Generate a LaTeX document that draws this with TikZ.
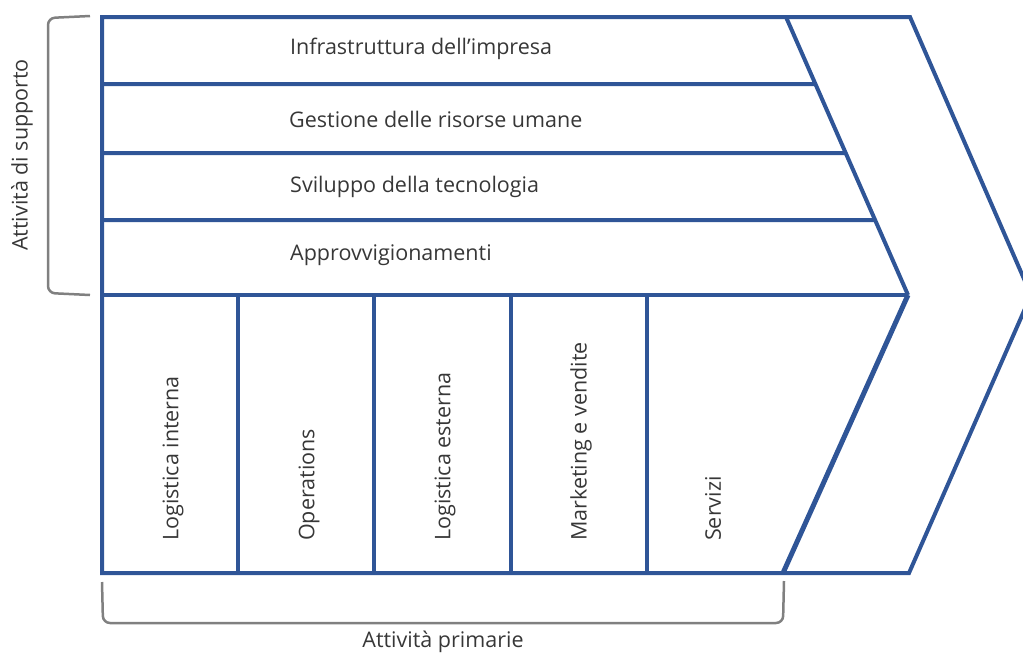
\documentclass[tikz,border=0pt]{standalone}
\usepackage{fontspec}
\setmainfont{Open Sans}
\usetikzlibrary{calc}
\definecolor{chainblue}{RGB}{47,85,151}
\definecolor{bracegray}{RGB}{128,128,128}
\definecolor{labelgray}{RGB}{55,55,55}
\begin{document}
\begin{tikzpicture}[x=1pt,y=-1pt,
  frame/.style={draw=chainblue,line width=4pt,line join=miter},
  bracket/.style={draw=bracegray,line width=2.5pt,rounded corners=7pt},
  lbl/.style={font=\fontsize{21.5}{26}\selectfont,text=labelgray,inner sep=0pt},
  hlbl/.style={lbl,anchor=west},
  vlbl/.style={lbl,rotate=90,anchor=west}]
\useasboundingbox (0,0) rectangle (1023,654);
\clip (0,0) rectangle (1023,654);

% corner points of the value chain
\coordinate (tl) at (102,17);
\coordinate (bl) at (102,573);
\coordinate (itop) at (786,17);
\coordinate (itip) at (908,295);
\coordinate (ibot) at (783,573);
\coordinate (otop) at (910,17);
\coordinate (otip) at (1031,295);
\coordinate (obot) at (909,573);

% outer arrow outline
\draw[frame] (tl) -- (otop) -- (otip) -- (obot) -- (bl) -- cycle;
% margin boundary
\draw[frame] (itop) -- (itip);
\draw[frame,line width=5pt] (itip) -- (ibot);

% support activity rows
\foreach \y in {84,153,220}
  \draw[frame] (102,\y) -- ($(itop)!{(\y-17)/278}!(itip)$);
\draw[frame] (102,295) -- (itip);

% primary activity columns
\foreach \x in {238,374,511,647}
  \draw[frame] (\x,295) -- (\x,573);

% support activities
\node[hlbl] (infra) at (290,49) {Infrastruttura dell’impresa};
\node[hlbl] (hr)    at (289,119) {Gestione delle risorse umane};
\node[hlbl] (tech)  at (290,187) {Sviluppo della tecnologia};
\node[hlbl] (proc)  at (290,255) {Approvvigionamenti};

% primary activities
\node[vlbl] (inlog)  at (173,541) {Logistica interna};
\node[vlbl] (ops)    at (309,541) {Operations};
\node[vlbl] (outlog) at (445,541) {Logistica esterna};
\node[vlbl] (mkt)    at (581,541) {Marketing e vendite};
\node[vlbl] (serv)   at (713,541) {Servizi};

% brackets
\draw[bracket] (90,16) -- (48,18) -- (48,293) -- (90,295);
\draw[bracket] (102,582) -- (103,623) -- (783,623) -- (784,581);
\node[lbl,rotate=90] (support) at (22,155) {Attività di supporto};
\node[lbl] (primary) at (443,642) {Attività primarie};
\end{tikzpicture}
\end{document}
